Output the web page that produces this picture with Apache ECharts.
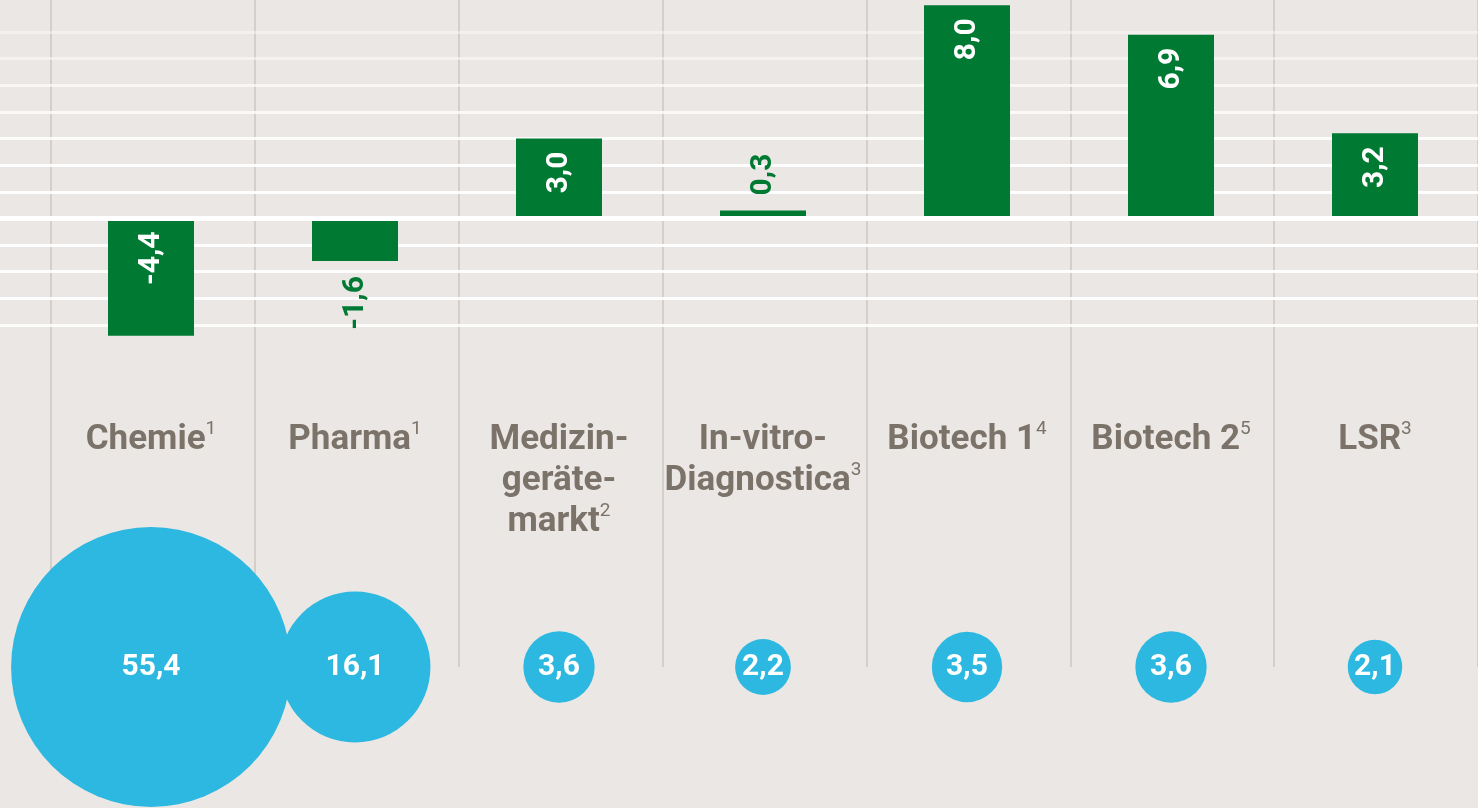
<!DOCTYPE html>
<html>
<head>
<meta charset="utf-8">
<script src="https://cdn.jsdelivr.net/npm/echarts@6/dist/echarts.min.js"></script>
<style>
    html, body { margin: 0; padding: 0; background: #ebe7e4; }
    #chart { width: 1478px; height: 808px; }
</style>
</head>
<body>
<div id="chart"></div>
<script>
// Wachstum (Balken, %) und Marktvolumen (Kreise) je Branche
var categories = ['Chemie', 'Pharma', 'Medizin-\ngeräte-\nmarkt', 'In-vitro-\nDiagnostica', 'Biotech 1', 'Biotech 2', 'LSR'];
var footnotes = ['1', '1', '2', '3', '4', '5', '3'];
var growth = [-4.4, -1.6, 3.0, 0.3, 8.0, 6.9, 3.2];
var volume = [55.4, 16.1, 3.6, 2.2, 3.5, 3.6, 2.1];

var GREEN = '#007a33';
var BLUE = '#2cb8e0';
var GREY = '#7b7369';

// weisse Hilfslinien werden nach oben blasser (von -4 bis 7)
var gridLineColors = [
    'rgba(255,255,255,0.85)', 'rgba(255,255,255,0.9)', 'rgba(255,255,255,0.9)', 'rgba(255,255,255,0.95)',
    'rgba(255,255,255,1)', 'rgba(255,255,255,0.95)', 'rgba(255,255,255,0.9)', 'rgba(255,255,255,0.85)',
    'rgba(255,255,255,0.75)', 'rgba(255,255,255,0.65)', 'rgba(255,255,255,0.5)', 'rgba(255,255,255,0.4)'
];

function fmt(v) {
    return v.toFixed(1).replace('.', ',');
}

var barData = growth.map(function (v) {
    var inside = Math.abs(v) >= 2;
    return {
        value: v,
        label: inside
            ? { position: 'insideTop', align: 'right', color: '#fff', distance: 13 }
            : { position: v > 0 ? 'top' : 'bottom', align: v > 0 ? 'left' : 'right', color: GREEN, distance: 15 }
    };
});

var bubbleData = volume.map(function (v, i) {
    return [i, 0, v];
});

var chart = echarts.init(document.getElementById('chart'));
chart.setOption({
    backgroundColor: '#ebe7e4',
    animation: false,
    textStyle: { fontFamily: 'Roboto' },
    grid: [
        { left: 0, right: 0, top: 32, height: 293 },        // Hilfslinien + Nulllinie
        { left: 49, width: 1428, top: 32, height: 293 },    // Balken
        { left: 51, width: 1428, top: 0, height: 667 },     // senkrechte Trenner
        { left: 49, width: 1428, top: 617, height: 100 }    // Kreise
    ],
    xAxis: [
        {
            gridIndex: 0, type: 'value', min: 0, max: 1, z: 10,
            axisLine: { show: true, onZero: true, lineStyle: { color: '#fff', width: 5 } },
            axisTick: { show: false }, axisLabel: { show: false }, splitLine: { show: false }
        },
        {
            gridIndex: 1, type: 'category', data: categories,
            axisLine: { show: false }, axisTick: { show: false },
            axisLabel: {
                interval: 0,
                margin: 95,
                color: GREY,
                fontSize: 35,
                fontWeight: 'bold',
                lineHeight: 41,
                align: 'center',
                formatter: function (value, idx) {
                    return value + '{s|' + footnotes[idx] + '}';
                },
                rich: {
                    s: { fontSize: 19, fontWeight: 'normal', color: GREY, verticalAlign: 'top', lineHeight: 41 }
                }
            },
            splitLine: { show: false }
        },
        {
            gridIndex: 2, type: 'category', data: categories, z: 0,
            axisLine: { show: false }, axisTick: { show: false }, axisLabel: { show: false },
            splitLine: { show: true, interval: 0, lineStyle: { color: '#d4cfca', width: 2 } }
        },
        {
            gridIndex: 3, type: 'category', data: categories, show: false
        }
    ],
    yAxis: [
        {
            gridIndex: 0, type: 'value', min: -4, max: 7, interval: 1, z: 1,
            axisLine: { show: false }, axisTick: { show: false }, axisLabel: { show: false },
            splitLine: { show: true, lineStyle: { color: gridLineColors, width: 3 } }
        },
        {
            gridIndex: 1, type: 'value', min: -4, max: 7, interval: 1, show: false
        },
        {
            gridIndex: 2, type: 'value', min: 0, max: 1, show: false
        },
        {
            gridIndex: 3, type: 'category', data: ['Volumen'], show: false
        }
    ],
    series: [
        {
            name: 'Wachstum',
            type: 'bar',
            xAxisIndex: 1,
            yAxisIndex: 1,
            data: barData,
            barWidth: 86,
            clip: false,
            itemStyle: { color: GREEN },
            label: {
                show: true,
                rotate: 90,
                verticalAlign: 'middle',
                fontSize: 30,
                fontWeight: 'bold',
                formatter: function (p) { return fmt(p.value); }
            }
        },
        {
            name: 'Volumen',
            type: 'scatter',
            xAxisIndex: 3,
            yAxisIndex: 3,
            data: bubbleData,
            symbol: 'circle',
            symbolSize: function (val) { return 37.6 * Math.sqrt(val[2]); },
            itemStyle: { color: BLUE, opacity: 1 },
            label: {
                show: true,
                position: 'inside',
                color: '#fff',
                fontSize: 30,
                fontWeight: 'bold',
                formatter: function (p) { return fmt(p.value[2]); }
            }
        }
    ]
});
</script>
</body>
</html>
